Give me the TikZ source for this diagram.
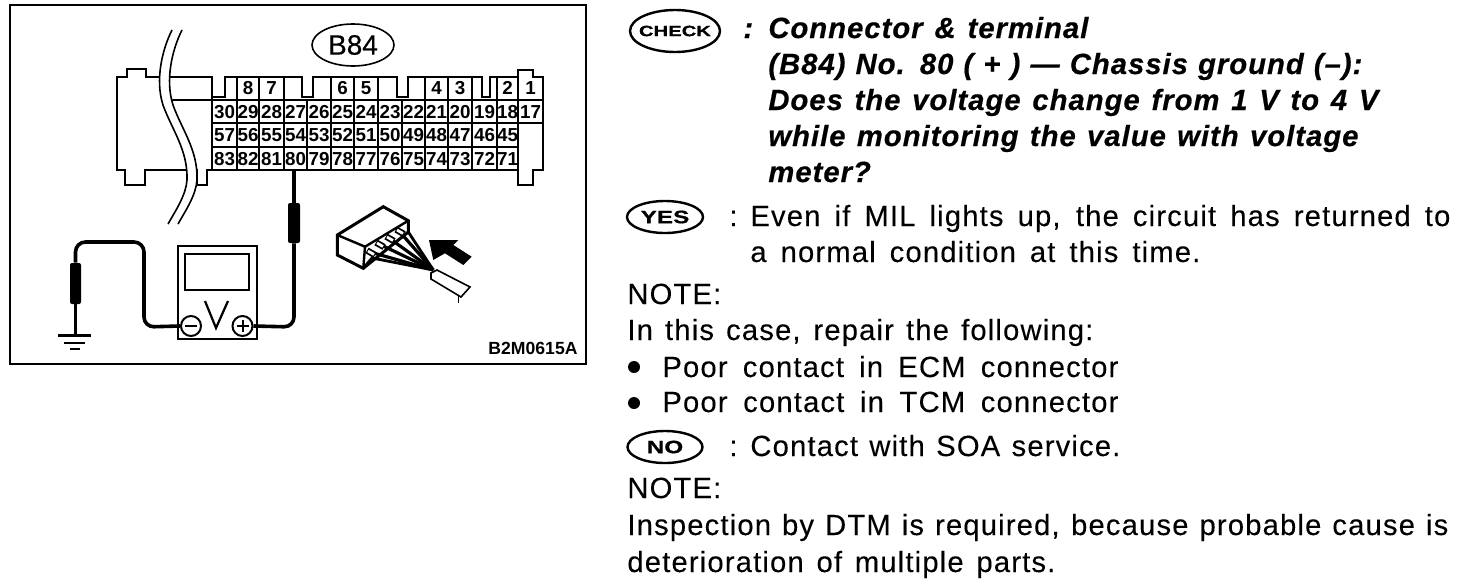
\documentclass[tikz,border=0pt]{standalone}
\usepackage{fontspec}
\setmainfont{Liberation Sans}
\newfontfamily\txtfont[LetterSpace=4,FakeBold=0.15]{Liberation Sans}
\newfontfamily\boldtxtfont[LetterSpace=3.5,FakeBold=0.5]{Liberation Sans Bold Italic}
\newfontfamily\badgefont[FakeStretch=1.35,FakeBold=0.6]{Liberation Sans Bold}
\newfontfamily\labelfont[FakeBold=0.4]{Liberation Sans}
\usetikzlibrary{shapes.geometric}
\newcommand{\fit}[2]{\makebox[#1pt][s]{#2}}
\tikzset{
	pin/.style={inner sep=0pt, font=\fontsize{9.4}{9}\bfseries},
	txt/.style={anchor=base west, inner sep=0pt, font=\fontsize{14.6}{16}\txtfont},
	boldtxt/.style={anchor=base west, inner sep=0pt, font=\fontsize{14.6}{16}\boldtxtfont},
	badge/.style={draw, ellipse, line width=1.2pt, inner sep=0pt, font=\fontsize{9}{9}\badgefont},
	probe/.style={fill=black, inner sep=0pt, rounded corners=1pt},
	wire/.style={black, line width=1.8pt, rounded corners=5pt},
	term/.style={draw, circle, line width=1pt, minimum size=10pt, inner sep=0pt},
}
\def\brk{(172,30) .. controls (162,50) and (155,80) .. (163,105) .. controls (172,130) and (188,150) .. (187,180) .. controls (186,195) and (176,210) .. (168,224)}
\begin{document}
\begin{tikzpicture}[x=0.5pt, y=-0.5pt]
\useasboundingbox (0,0) rectangle (1472,584);
\draw[black, line width=1.2pt](10,5) rectangle (586,364);
% connector outline
\draw[black, line width=1.1pt](117,170)--(117,77)--(127,77)--(127,69)--(146,69)--(146,77)--(212,77)--(212,97)--(225,97)--(225,77)--(302,77)--(302,97)--(313,97)--(313,77)--(397,77)--(397,97)--(408,97)--(408,77)--(482,77)--(482,97)--(490,97)--(490,77)--(518,77)--(518,70)--(533,70)--(533,77)--(543,77)--(543,170)--(533,170)--(533,185)--(518,185)--(518,170)--(207,170)--(207,185)--(197,185)--(197,170)--(145,170)--(145,185)--(125,185)--(125,170)--cycle;
\draw[black, line width=1.1pt](172,100)--(543,100);
\draw[black, line width=1.1pt](212,123)--(543,123);
\draw[black, line width=1.1pt](212,147)--(518,147);
\draw[black, line width=1.1pt](212,97)--(212,170);
\foreach \x in {237,259,284,307,331,354,378,402,425,448,472,497}{
	\draw[black, line width=1.1pt](\x,100)--(\x,170);
}
\draw[black, line width=1.1pt](518,77)--(518,170);
\foreach \x in {237,259,284,331,354,378,425,448,472,497}{
	\draw[black, line width=1.1pt](\x,77)--(\x,100);
}
% break in the connector
\draw[white, line width=5pt, xshift=2.5pt] \brk;
\foreach \d in {0,5}{
	\draw[black, line width=0.8pt, xshift=\d pt] \brk;
}
\node[draw, ellipse, line width=0.8pt, minimum width=41pt, minimum height=21pt, inner sep=0pt, font=\fontsize{14}{14}\labelfont] (b84) at (353,45) {B84};
% terminal numbers
\foreach \n/\x in {8/248,7/271.5,6/342.5,5/366,4/436.5,3/460,2/507.5,1/530.5}{
	\node[pin] (top\n) at (\x,88) {\n};
}
\foreach \n/\x in {30/224.5,29/248,28/271.5,27/295.5,26/319,25/342.5,24/366,23/390,22/413.5,21/436.5,20/460,19/484.5,18/507.5,17/530.5}{
	\node[pin] (t\n) at (\x,112) {\n};
}
\foreach \n/\x in {57/224.5,56/248,55/271.5,54/295.5,53/319,52/342.5,51/366,50/390,49/413.5,48/436.5,47/460,46/484.5,45/507.5}{
	\node[pin] (t\n) at (\x,135.5) {\n};
}
\foreach \n/\x in {83/224.5,82/248,81/271.5,80/295.5,79/319,78/342.5,77/366,76/390,75/413.5,74/436.5,73/460,72/484.5,71/507.5}{
	\node[pin] (t\n) at (\x,159) {\n};
}
% meter
\node[draw, line width=1pt, minimum width=39.5pt, minimum height=46.5pt, inner sep=0pt] (meter) at (217.5,292.5) {};
\node[draw, line width=1.2pt, minimum width=32pt, minimum height=18pt, inner sep=0pt] (screen) at (217,272) {};
\node[term] (minus) at (191,326) {};
\node[term] (plus) at (242.5,326) {};
\draw[black, line width=1.2pt](185,326)--(197,326);
\draw[black, line width=1pt](236.5,326)--(248.5,326);
\draw[black, line width=1pt](242.5,320)--(242.5,332);
\draw[black, line width=1.1pt](205,301)--(216,328)--(228,301);
% leads and probes
\node[probe, minimum width=6pt, minimum height=20pt] (probeplus) at (294,223) {};
\node[probe, minimum width=5.5pt, minimum height=20.5pt] (probeminus) at (75.5,283.5) {};
\coordinate (gnd) at (75.5,335);
\draw[black, line width=2pt](294,170)--(probeplus.north);
\draw[wire](probeplus.south)--(294,327)--(plus.east);
\draw[wire](minus.west)--(144,327)--(144,242)--(75.5,242)--(probeminus.north);
\draw[black, line width=1.8pt](probeminus.south)--(gnd);
\draw[black, line width=1.5pt](58,335)--(91,335);
\draw[black, line width=1.2pt](64,343)--(85,343);
\draw[black, line width=1pt](70,349)--(80,349);
% harness connector
\coordinate (bundle) at (433.3,270);
\draw[black, line width=1.5pt, fill=white](337.3,235)--(383.3,206.7)--(408.3,220.7)--(408.3,232)--(363.3,268.3)--(337.3,255)--cycle;
\draw[black, line width=1.2pt](337.3,235)--(365,246.7)--(408.3,220.7);
\draw[black, line width=1.2pt](365,246.7)--(363.3,268.3);
\draw[black, line width=1.4pt](363.3,268.3)--(372,258)--(bundle);
\draw[black, line width=1.4pt](408.3,232)--(bundle);
\foreach \xa/\ya in {399/231,389/238,379/244,370/252}{
	\draw[black, line width=1.6pt](\xa,\ya)--(bundle);
	\draw[black, line width=3.2pt](\xa-3,\ya-1.5)--(\xa+5,\ya+3);
	\draw[white, line width=1.4pt](\xa-2,\ya-1)--(\xa+4,\ya+2.5);
}
\fill[black](418,258)--(bundle)--(420,264)--cycle;
\draw[black, line width=0.8pt, fill=white](431,279)--(431,273)--(437,270)--(470,287)--(461,297)--cycle;
\draw[black, line width=0.8pt](458.3,296)--(458.3,303);
\fill[black](429,240)--(458.3,240)--(453.3,245)--(471.7,256.7)--(463.3,265)--(445,253.3)--(433.3,260)--cycle;
\node[inner sep=0pt, font=\fontsize{8.8}{8}\bfseries] (code) at (533,348) {B2M0615A};
% right text
\node[badge, minimum width=45pt, minimum height=21pt, inner xsep=-4pt, font=\fontsize{7.5}{8}\badgefont] (check) at (675,31) {CHECK};
\node[boldtxt] (colon) at (743,38) {:};
\node[boldtxt] (l1) at (768,38) {\fit{160}{Connector \& terminal}};
\node[boldtxt] (l2) at (768,74) {\fit{297}{(B84) No. 80 ( + ) — Chassis ground (–):}};
\node[boldtxt] (l3) at (768,110) {\fit{305}{Does the voltage change from 1 V to 4 V}};
\node[boldtxt] (l4) at (768,146) {\fit{295}{while monitoring the value with voltage}};
\node[boldtxt] (l5) at (768,182) {meter?};
\node[badge, minimum width=38pt, minimum height=16pt] (yes) at (665,217) {YES};
\node[txt] (c2) at (729,226) {:};
\node[txt] (l6) at (750,226) {\fit{350}{Even if MIL lights up, the circuit has returned to}};
\node[txt] (l7) at (750,262) {\fit{225}{a normal condition at this time.}};
\node[txt] (l8) at (627,304) {NOTE:};
\node[txt] (l9) at (627,340) {\fit{233}{In this case, repair the following:}};
\fill[black](634,367) circle[radius=6];
\node[txt] (l10) at (662,377) {\fit{228}{Poor contact in ECM connector}};
\fill[black](634,403) circle[radius=6];
\node[txt] (l11) at (662,412) {\fit{228}{Poor contact in TCM connector}};
\node[badge, minimum width=37.5pt, minimum height=16pt] (no) at (665,447) {NO};
\node[txt] (c3) at (729,456) {:};
\node[txt] (l12) at (750,456) {\fit{185}{Contact with SOA service.}};
\node[txt] (l13) at (627,498) {NOTE:};
\node[txt] (l14) at (627,535) {\fit{410.5}{Inspection by DTM is required, because probable cause is}};
\node[txt] (l15) at (627,572) {\fit{214}{deterioration of multiple parts.}};
\end{tikzpicture}
\end{document}
